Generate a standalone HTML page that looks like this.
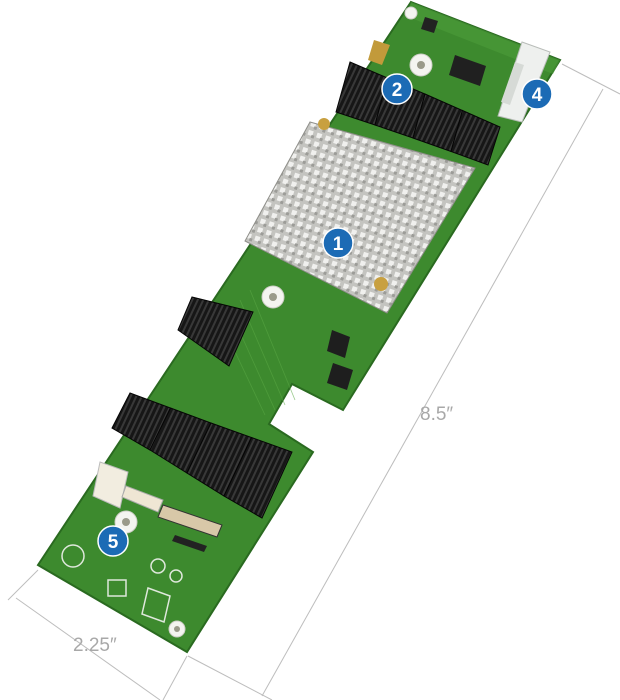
<!DOCTYPE html>
<html><head><meta charset="utf-8"><style>
html,body{margin:0;padding:0;background:#fff;width:620px;height:700px;overflow:hidden}
svg{display:block}
</style></head><body>
<svg width="620" height="700" viewBox="0 0 620 700" xmlns="http://www.w3.org/2000/svg">
<defs>
<pattern id="fins" width="9" height="9" patternUnits="userSpaceOnUse" patternTransform="rotate(18)">
<rect width="9" height="9" fill="#c4c4c0"/>
<rect x="1" y="1" width="5" height="5" fill="#f0f0ee"/>
<rect x="5" y="5" width="3" height="3" fill="#9c9c98"/>
</pattern>
<pattern id="sata" width="5" height="5" patternUnits="userSpaceOnUse" patternTransform="rotate(25)">
<rect width="5" height="5" fill="#161616"/>
<rect x="0" y="0" width="2" height="5" fill="#383838"/>
</pattern>
</defs>
<!-- dimension lines -->
<g stroke="#bdbdbd" stroke-width="1" fill="none">
<line x1="562" y1="64" x2="620" y2="94"/>
<line x1="603" y1="89" x2="262" y2="696"/>
<line x1="188" y1="656" x2="272" y2="700"/>
<line x1="16" y1="598" x2="160" y2="700"/>
<line x1="38" y1="570" x2="8" y2="600"/>
<line x1="187" y1="656" x2="163" y2="700"/>
</g>
<text x="420" y="420" font-family="Liberation Sans, sans-serif" font-size="19" fill="#a8a8a8">8.5″</text>
<text x="73" y="651" font-family="Liberation Sans, sans-serif" font-size="19" fill="#a8a8a8">2.25″</text>
<!-- board -->
<polygon points="411,2 560,60 343,410 292,384 269,424 313,452 187,652 38,565" fill="#3d8a2e" stroke="#2a6a20" stroke-width="2"/>
<polygon points="411,2 560,60 553,74 406,16" fill="#4c9c3a" opacity="0.6"/>
<!-- traces -->
<g stroke="#5aa845" stroke-width="0.8" opacity="0.6">
<line x1="250" y1="290" x2="295" y2="400"/><line x1="240" y1="300" x2="285" y2="405"/>
<line x1="230" y1="310" x2="275" y2="410"/><line x1="220" y1="320" x2="265" y2="415"/>
</g>
<!-- molex -->
<polygon points="522,42 550,52 522,122 498,116" fill="#eef0ee" stroke="#b8bcb8"/>
<polygon points="515,62 524,65 510,105 501,102" fill="#d6dad6"/>
<!-- chips -->
<polygon points="455,55 486,66 480,86 449,75" fill="#202020"/>
<polygon points="425,17 438,21 434,33 421,29" fill="#222"/>
<polygon points="332,330 350,337 345,358 327,351" fill="#1e1e1e"/>
<polygon points="333,363 353,370 347,390 327,383" fill="#1e1e1e"/>
<polygon points="374,40 390,45 382,65 368,60" fill="#c29a3a"/>
<!-- heatsink -->
<polygon points="310,122 475,168 387,313 245,241" fill="url(#fins)" stroke="#8f8f8a"/>
<!-- top sata row -->
<g fill="url(#sata)" stroke="#050505">
<polygon points="350,62 387.5,78 375,125 336,112"/>
<polygon points="387.5,78 425,94 413,138 375,125"/>
<polygon points="425,94 462.5,110.5 451,151.5 413,138"/>
<polygon points="462.5,110.5 500,127 488,165 451,151.5"/>
</g>
<circle cx="324" cy="124" r="6" fill="#c8a040"/>
<circle cx="381" cy="284" r="7" fill="#c8a040"/>
<!-- middle single sata -->
<polygon points="192,297 253,312 229,366 178,330" fill="url(#sata)" stroke="#050505"/>
<!-- bottom sata row -->
<g fill="url(#sata)" stroke="#050505">
<polygon points="130,393 170.5,408 150,450 112,428"/>
<polygon points="170.5,408 211,423 187,473 150,450"/>
<polygon points="211,423 251.5,437.5 224,496 187,473"/>
<polygon points="251.5,437.5 292,452 262,518 224,496"/>
</g>
<!-- small connectors -->
<polygon points="100,462 128,472 120,508 93,496" fill="#f2ede0" stroke="#bbb"/>
<polygon points="126,486 163,500 158,512 122,497" fill="#efe6d4" stroke="#aaa"/>
<polygon points="163,505 222,525 217,537 158,517" fill="#d8c8a8" stroke="#333"/>
<polygon points="175,535 207,546 204,552 172,541" fill="#222"/>
<!-- holes -->
<g fill="#f4f4f0" stroke="#cfcfc8">
<circle cx="421" cy="65" r="11"/><circle cx="273" cy="297" r="11"/>
<circle cx="126" cy="522" r="11"/><circle cx="177" cy="629" r="8"/>
<circle cx="411" cy="13" r="6"/>
</g>
<g fill="#9a9a8a"><circle cx="421" cy="65" r="4"/><circle cx="273" cy="297" r="4"/><circle cx="126" cy="522" r="4"/><circle cx="177" cy="629" r="3"/></g>
<!-- markings -->
<g fill="none" stroke="#dfe8dc" stroke-width="1.5">
<circle cx="73" cy="556" r="11"/><rect x="108" y="580" width="18" height="16"/><circle cx="158" cy="566" r="7"/><circle cx="176" cy="576" r="6"/>
<polygon points="148,588 170,596 164,622 142,614"/>
</g>
<!-- markers -->
<g font-family="Liberation Sans, sans-serif" font-weight="bold" font-size="19" fill="#fff" text-anchor="middle">
<circle cx="338" cy="243" r="15" fill="#1c6bb5" stroke="#fff" stroke-width="1.5"/><text x="338" y="250">1</text>
<circle cx="397" cy="89" r="15" fill="#1c6bb5" stroke="#fff" stroke-width="1.5"/><text x="397" y="96">2</text>
<circle cx="537" cy="94" r="15" fill="#1c6bb5" stroke="#fff" stroke-width="1.5"/><text x="537" y="101">4</text>
<circle cx="113" cy="541" r="15" fill="#1c6bb5" stroke="#fff" stroke-width="1.5"/><text x="113" y="548">5</text>
</g>
</svg>
</body></html>
